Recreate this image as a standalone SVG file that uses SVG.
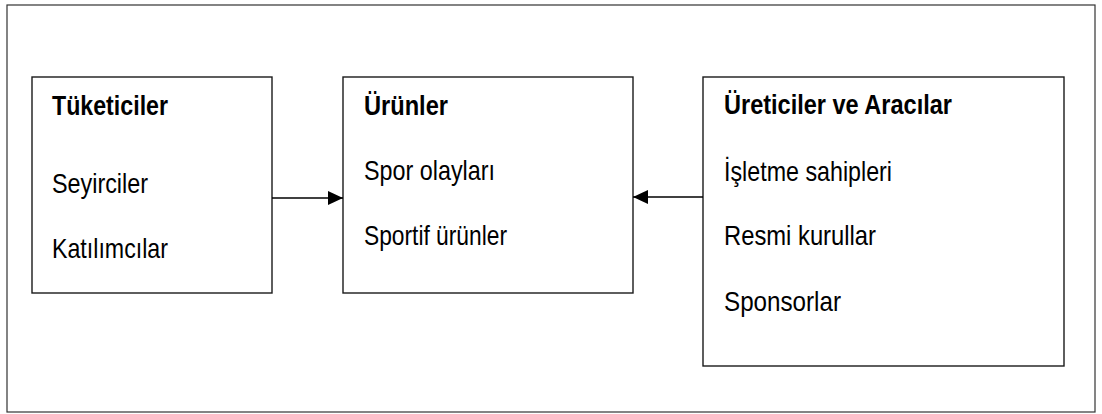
<svg xmlns="http://www.w3.org/2000/svg" width="1102" height="414" viewBox="0 0 1102 414">
<style>
.box{fill:#fff;stroke:#1a1a1a;stroke-width:1.4}
.t{font-family:"Liberation Sans",Arial,sans-serif;font-size:28px;fill:#000}
.b{font-weight:bold}
.c{stroke:#000;stroke-width:1.3;fill:none}
</style>
<defs>
<marker id="ahl" viewBox="0 0 15 14" refX="15" refY="7" markerWidth="15" markerHeight="14" markerUnits="userSpaceOnUse" orient="auto">
<path d="M0,0 L15,7 L0,14 Z" fill="#000"/>
</marker>
</defs>
<rect x="7" y="5" width="1088" height="407" fill="#fff" stroke="#333" stroke-width="1.2"/>
<g id="tuketiciler">
<rect class="box" x="32" y="77" width="240" height="216"/>
<text class="t b" x="52" y="115" textLength="116" lengthAdjust="spacingAndGlyphs">Tüketiciler</text>
<text class="t" x="52" y="193" textLength="96" lengthAdjust="spacingAndGlyphs">Seyirciler</text>
<text class="t" x="52" y="258" textLength="116" lengthAdjust="spacingAndGlyphs">Katılımcılar</text>
</g>
<g id="urunler">
<rect class="box" x="343" y="77" width="290" height="216"/>
<text class="t b" x="364" y="115" textLength="84" lengthAdjust="spacingAndGlyphs">Ürünler</text>
<text class="t" x="364" y="180" textLength="131" lengthAdjust="spacingAndGlyphs">Spor olayları</text>
<text class="t" x="364" y="245" textLength="143" lengthAdjust="spacingAndGlyphs">Sportif ürünler</text>
</g>
<g id="ureticiler">
<rect class="box" x="703" y="77" width="361" height="289"/>
<text class="t b" x="724" y="114" textLength="228" lengthAdjust="spacingAndGlyphs">Üreticiler ve Aracılar</text>
<text class="t" x="724" y="181" textLength="168" lengthAdjust="spacingAndGlyphs">İşletme sahipleri</text>
<text class="t" x="724" y="245" textLength="152" lengthAdjust="spacingAndGlyphs">Resmi kurullar</text>
<text class="t" x="724" y="311" textLength="117" lengthAdjust="spacingAndGlyphs">Sponsorlar</text>
</g>
<g id="connectors">
<line class="c" x1="272" y1="198" x2="343" y2="198" marker-end="url(#ahl)"/>
<line class="c" x1="703" y1="197" x2="633" y2="197" marker-end="url(#ahl)"/>
</g>
</svg>
